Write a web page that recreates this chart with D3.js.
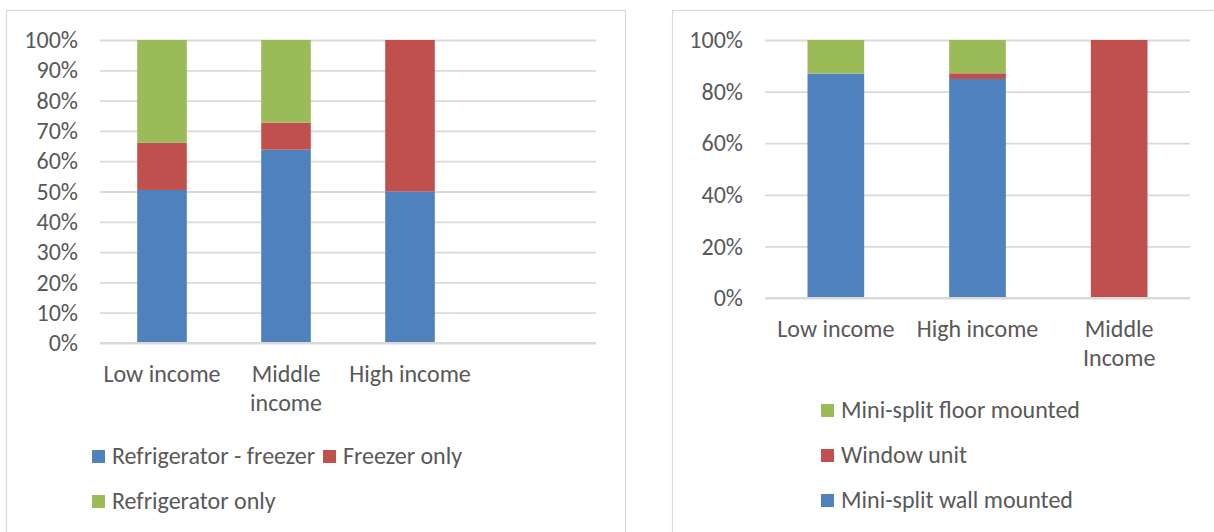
<!DOCTYPE html>
<html>
<head>
<meta charset="utf-8">
<script src="https://cdn.jsdelivr.net/npm/d3@7"></script>
<style>
  html, body { margin: 0; padding: 0; background: #fff; }
  svg { display: block; }
  text { font-family: Carlito, Calibri, Lato, sans-serif; fill: #595959; }
</style>
</head>
<body>
<svg id="chart" width="1214" height="532"></svg>
<script>
// ---- Refrigeration appliances by income group (share of households, %) ----
const applianceCategories = ["Low income", "Middle income", "High income", ""];
const applianceTickLabels = [["Low income"], ["Middle", "income"], ["High income"], []];
const applianceSeries = ["Refrigerator - freezer", "Freezer only", "Refrigerator only"];
const fridgeFreezer = [50.5, 63.8, 50.0];
const freezerOnly = [15.6, 8.9, 50.0];
const fridgeOnly = [33.9, 27.3, 0.0];
const applianceTicks = [0, 10, 20, 30, 40, 50, 60, 70, 80, 90, 100];

// ---- Air-conditioning equipment by income group (share of households, %) ----
const coolingCategories = ["Low income", "High income", "Middle Income"];
const coolingTickLabels = [["Low income"], ["High income"], ["Middle", "Income"]];
const coolingSeries = ["Mini-split wall mounted", "Window unit", "Mini-split floor mounted"];
const splitWall = [87.0, 84.9, 0.0];
const windowUnit = [0.0, 2.2, 100.0];
const splitFloor = [13.0, 12.9, 0.0];
const coolingTicks = [0, 20, 40, 60, 80, 100];

const seriesColors = ["#4F81BD", "#C0504D", "#9BBB59"];
const FONT_SIZE = 24;
const GRID = "#D9D9D9";

const svg = d3.select("#chart");

function drawPanel(opts) {
  const g = svg.append("g");

  // panel frame (runs past the bottom / right of the view)
  g.append("rect")
    .attr("x", opts.frame[0] + 0.5).attr("y", opts.frame[1] + 0.5)
    .attr("width", opts.frame[2]).attr("height", opts.frame[3])
    .attr("fill", "none").attr("stroke", GRID).attr("stroke-width", 1.2);

  const x = d3.scaleBand()
    .domain(opts.categories)
    .range([opts.left, opts.right])
    .paddingInner(0.6).paddingOuter(0.3);

  const y = d3.scaleLinear().domain([0, 100]).range([opts.bottom, opts.top]);

  // value axis with gridlines
  const axis = d3.axisLeft(y)
    .tickValues(opts.ticks)
    .tickSize(-(opts.right - opts.left))
    .tickPadding(22)
    .tickFormat(d => d + "%");

  const ax = g.append("g")
    .attr("transform", `translate(${opts.left},0)`)
    .call(axis);
  ax.select(".domain").remove();
  ax.selectAll("line").attr("stroke", GRID).attr("stroke-width", 1.8);
  ax.selectAll("text")
    .attr("font-size", FONT_SIZE)
    .attr("fill", "#595959");
  ax.attr("font-family", null).attr("font-size", null);

  // stacked bars
  const rows = opts.values[0].map((_, i) => {
    const r = { cat: opts.categories[i] };
    opts.series.forEach((s, k) => { r[s] = opts.values[k][i]; });
    return r;
  });
  const stacked = d3.stack().keys(opts.series)(rows);

  g.append("g").selectAll("g")
    .data(stacked)
    .join("g")
    .attr("fill", (d, k) => seriesColors[k])
    .selectAll("rect")
    .data(d => d.filter(p => p[1] - p[0] > 0))
    .join("rect")
    .attr("x", d => x(d.data.cat))
    .attr("width", x.bandwidth())
    .attr("y", d => y(d[1]))
    .attr("height", d => y(d[0]) - y(d[1]));

  // category axis line on top of the bars
  g.append("line")
    .attr("x1", opts.left).attr("x2", opts.right)
    .attr("y1", y(0)).attr("y2", y(0))
    .attr("stroke", GRID).attr("stroke-width", 1.8);

  // category labels
  const lab = g.append("g");
  opts.categories.forEach((c, i) => {
    const cx = x(c) + x.bandwidth() / 2;
    const t = lab.append("text")
      .attr("text-anchor", "middle")
      .attr("font-size", FONT_SIZE)
      .attr("x", cx)
      .attr("y", y(0) + 39);
    opts.tickLabels[i].forEach((line, j) => {
      t.append("tspan")
        .attr("x", cx)
        .attr("dy", j === 0 ? 0 : 29)
        .text(line);
    });
  });

  // legend
  const leg = g.append("g");
  opts.legendRows.forEach((row, r) => {
    let lx = opts.legendX;
    const base = opts.legendY + r * 45;
    row.forEach(k => {
      leg.append("rect")
        .attr("x", lx).attr("y", base - 14)
        .attr("width", 13).attr("height", 13)
        .attr("fill", seriesColors[k]);
      const t = leg.append("text")
        .attr("x", lx + 20).attr("y", base)
        .attr("font-size", FONT_SIZE)
        .text(opts.series[k]);
      lx += 20 + t.node().getComputedTextLength() + 8;
    });
  });
}

drawPanel({
  frame: [6, 10, 619, 600],
  categories: applianceCategories,
  tickLabels: applianceTickLabels,
  series: applianceSeries,
  values: [fridgeFreezer, freezerOnly, fridgeOnly],
  ticks: applianceTicks,
  left: 100, right: 596, top: 40, bottom: 343,
  legendX: 92, legendY: 464,
  legendRows: [[0, 1], [2]]
});

drawPanel({
  frame: [672, 10, 700, 600],
  categories: coolingCategories,
  tickLabels: coolingTickLabels,
  series: coolingSeries,
  values: [splitWall, windowUnit, splitFloor],
  ticks: coolingTicks,
  left: 765, right: 1190, top: 40, bottom: 298,
  legendX: 821, legendY: 418,
  legendRows: [[2], [1], [0]]
});
</script>
</body>
</html>
